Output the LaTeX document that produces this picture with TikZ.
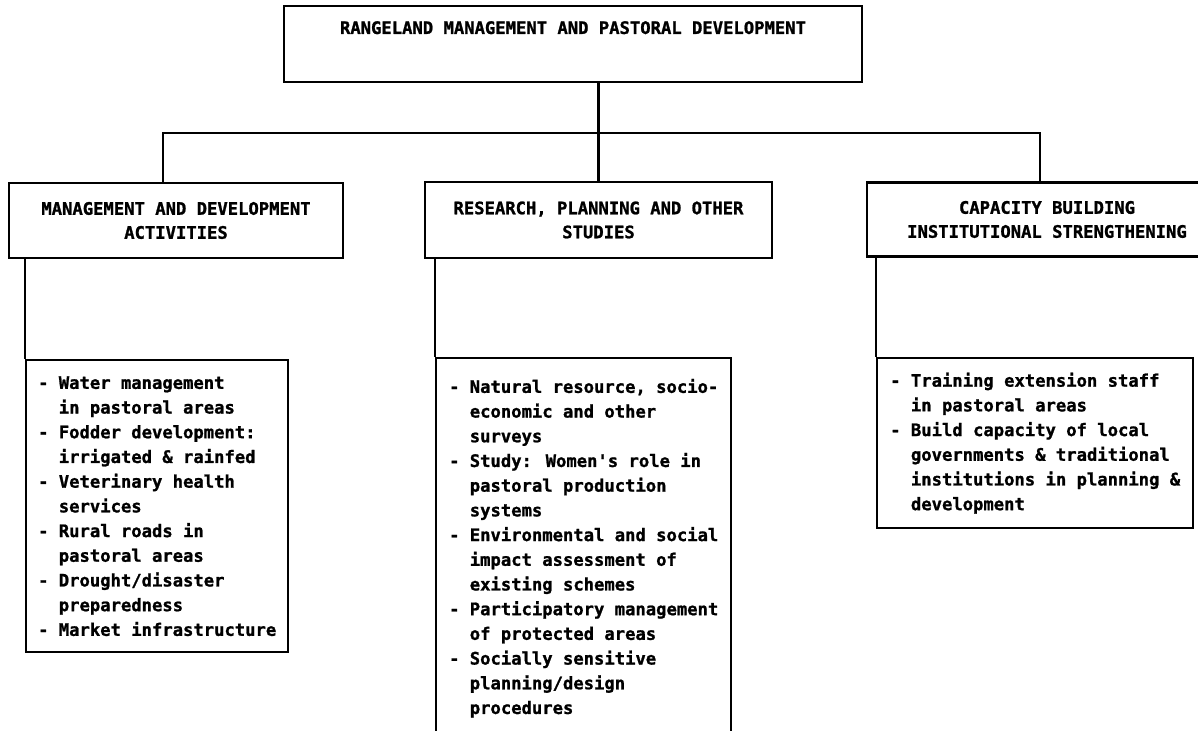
\documentclass[tikz,border=0pt]{standalone}
\usepackage{fontspec}
\usepackage{tikz}
\usetikzlibrary{positioning}
\newfontfamily\dotfont{DejaVu Sans Mono}[BoldFeatures={FakeBold=1.2}]
\tikzstyle{block} = [draw, line width=1.2pt, rectangle, inner sep=0pt,
    align=center, font=\dotfont\bfseries\fontsize{8.6pt}{12pt}\selectfont]
\tikzstyle{caption} = [inner sep=0pt,
    font=\dotfont\bfseries\fontsize{8.6pt}{12pt}\selectfont]
\tikzstyle{list} = [draw, line width=1.2pt, rectangle, inner sep=0pt,
    anchor=north west, align=left,
    font=\dotfont\bfseries\fontsize{8.6pt}{12.35pt}\selectfont]
\tikzstyle{link} = [line width=1.2pt]
\newcommand{\more}{\hphantom{- }}

\begin{document}
\begin{tikzpicture}[x=0.5pt, y=-0.5pt, node distance=8pt]
    \useasboundingbox (0,0) rectangle (1198,731);
    \node [block, minimum width=289pt, minimum height=38pt] (top) at (573,44) {};
    \node [caption, below=of top.north] (toptitle) {RANGELAND MANAGEMENT AND PASTORAL DEVELOPMENT};
    \node [block, minimum width=167pt, minimum height=37.5pt] (mgmt) at (176,220.5)
        {MANAGEMENT AND DEVELOPMENT\\ACTIVITIES};
    \node [block, minimum width=173.5pt, minimum height=38pt] (research) at (598.5,220)
        {RESEARCH, PLANNING AND OTHER\\STUDIES};
    \node [block, minimum width=180pt, minimum height=37pt] (capacity) at (1047,219.5)
        {CAPACITY BUILDING\\INSTITUTIONAL STRENGTHENING};
    \coordinate (bar) at (598.5,133);
    \node [list, minimum width=131pt, minimum height=146pt] (mgmtlist) at (25,359)
        {- Water management\\
         \more in pastoral areas\\
         - Fodder development:\\
         \more irrigated \& rainfed\\
         - Veterinary health\\
         \more services\\
         - Rural roads in\\
         \more pastoral areas\\
         - Drought/disaster\\
         \more preparedness\\
         - Market infrastructure};
    \node [list, minimum width=147.5pt, minimum height=190pt] (researchlist) at (435,357)
        {- Natural resource, socio-\\
         \more economic and other\\
         \more surveys\\
         - Study: Women's role in\\
         \more pastoral production\\
         \more systems\\
         - Environmental and social\\
         \more impact assessment of\\
         \more existing schemes\\
         - Participatory management\\
         \more of protected areas\\
         - Socially sensitive\\
         \more planning/design\\
         \more procedures};
    \node [list, minimum width=158pt, minimum height=85pt] (capacitylist) at (876,357)
        {- Training extension staff\\
         \more in pastoral areas\\
         - Build capacity of local\\
         \more governments \& traditional\\
         \more institutions in planning \&\\
         \more development};
    \draw [link] (top.south -| bar) -- (bar);
    \draw [link] ([xshift=-6.5pt]mgmt.north) |- (bar) -| ([xshift=-3.5pt]capacity.north);
    \draw [link] (research.north) -- (bar);
    \draw [link] (mgmtlist.north west) -- (mgmtlist.north west |- mgmt.south);
    \draw [link] (researchlist.north west) -- (researchlist.north west |- research.south);
    \draw [link] (capacitylist.north west) -- (capacitylist.north west |- capacity.south);
\end{tikzpicture}
\end{document}
